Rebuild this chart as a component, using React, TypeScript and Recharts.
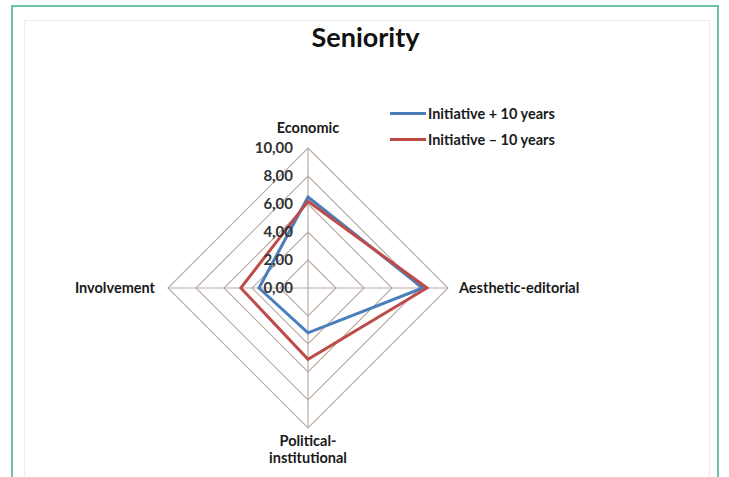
import {
  Legend,
  PolarAngleAxis,
  PolarGrid,
  PolarRadiusAxis,
  Radar,
  RadarChart,
} from "recharts"

const dimensions = [
  "Economic",
  "Aesthetic-editorial",
  "Political-institutional",
  "Involvement",
]
const plusTenYears = [6.5, 8.2, 3.2, 3.5]
const minusTenYears = [6.2, 8.5, 5.1, 4.8]
const radiusTicks = [0, 2, 4, 6, 8, 10]

const SERIES = [
  { key: "plus", name: "Initiative + 10 years", color: "#4a7ebb" },
  { key: "minus", name: "Initiative \u2013 10 years", color: "#be4b48" },
]

const data = dimensions.map((dim, i) => ({
  dim,
  plus: plusTenYears[i],
  minus: minusTenYears[i],
}))

const FONT = "Lato, 'Open Sans', sans-serif"
const CX = 308
const CY = 288

const fmt = (v: number) => v.toFixed(2).replace(".", ",")

function AngleTick(props: any) {
  const { x, y, payload } = props
  const label: string = payload.value
  const style = { fontFamily: FONT, fontSize: 14.5, fontWeight: 700, fill: "#1a1a1a" }
  if (label === "Political-institutional") {
    return (
      <text x={x} y={y + 10} textAnchor="middle" style={style}>
        <tspan x={x} dy={0}>Political-</tspan>
        <tspan x={x} dy={17}>institutional</tspan>
      </text>
    )
  }
  if (label === "Economic") {
    return (
      <text x={x} y={y - 7} textAnchor="middle" style={style}>
        {label}
      </text>
    )
  }
  const right = x > CX
  return (
    <text
      x={right ? x + 3 : x - 5}
      y={y}
      dy="0.35em"
      textAnchor={right ? "start" : "end"}
      style={style}
    >
      {label}
    </text>
  )
}

function RadiusTick(props: any) {
  const { x, y, payload } = props
  return (
    <text
      x={x - 15}
      y={y}
      dy="0.35em"
      textAnchor="end"
      style={{ fontFamily: FONT, fontSize: 15, fontWeight: 700, fill: "#333" }}
    >
      {fmt(payload.value)}
    </text>
  )
}

function LegendBox() {
  return (
    <div style={{ fontFamily: FONT, fontSize: 14.5, fontWeight: 700, color: "#1a1a1a" }}>
      {SERIES.map((s) => (
        <div key={s.key} style={{ display: "flex", alignItems: "center", height: 26 }}>
          <span
            style={{ display: "inline-block", width: 36, height: 3, background: s.color, marginRight: 2 }}
          />
          {s.name}
        </div>
      ))}
    </div>
  )
}

export default function App() {
  return (
    <div
      style={{
        position: "absolute",
        left: 0,
        top: 0,
        width: 729,
        height: 477,
        background: "#fff",
        overflow: "hidden",
      }}
    >
      <div
        style={{
          position: "absolute",
          left: 11,
          top: 5,
          width: 704,
          height: 500,
          border: "2px solid #6cc5a4",
        }}
      />
      <div
        style={{
          position: "absolute",
          left: 24,
          top: 20,
          width: 684,
          height: 480,
          border: "1px solid #ececec",
        }}
      />
      <div
        style={{
          position: "absolute",
          left: 0,
          top: 20,
          width: 729,
          textAlign: "center",
          fontFamily: FONT,
          fontSize: 27,
          fontWeight: 700,
          color: "#111",
        }}
      >
        <span style={{ marginLeft: 2 }}>Seniority</span>
      </div>
      <div style={{ position: "absolute", left: 0, top: 0 }}>
        <RadarChart
          width={729}
          height={477}
          data={data}
          cx={CX}
          cy={CY}
          outerRadius={140}
          startAngle={90}
          endAngle={-270}
        >
          <PolarGrid gridType="polygon" stroke="#b9aca4" strokeWidth={1.2} />
          <PolarAngleAxis dataKey="dim" tick={<AngleTick />} tickLine={false} axisLine={false} />
          <PolarRadiusAxis
            angle={90}
            domain={[0, 10]}
            ticks={radiusTicks}
            tick={<RadiusTick />}
            tickLine={false}
            axisLine={false}
          />
          {SERIES.map((s) => (
            <Radar
              key={s.key}
              name={s.name}
              dataKey={s.key}
              stroke={s.color}
              strokeWidth={3}
              fill="none"
              fillOpacity={0}
              dot={false}
              isAnimationActive={false}
            />
          ))}
          <Legend
            content={<LegendBox />}
            wrapperStyle={{ position: "absolute", left: 390, top: 100, width: 220 }}
          />
        </RadarChart>
      </div>
    </div>
  )
}
